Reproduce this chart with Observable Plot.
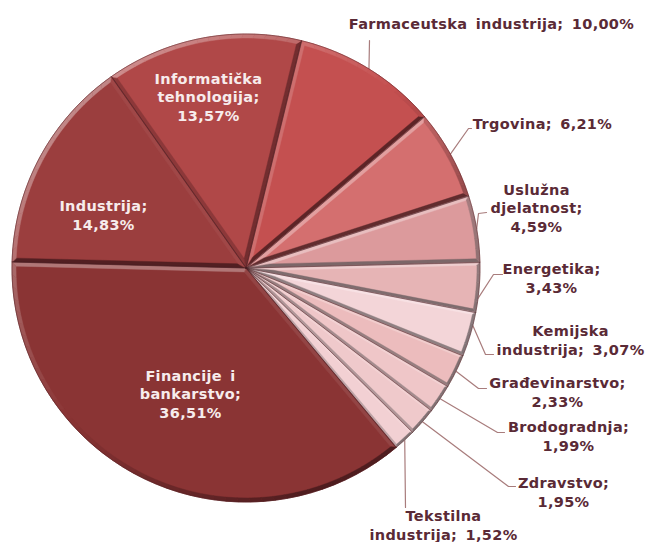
<!DOCTYPE html>
<html>
<head>
<meta charset="utf-8">
<script src="https://cdn.jsdelivr.net/npm/d3@7"></script>
<script src="https://cdn.jsdelivr.net/npm/@observablehq/plot@0.6"></script>
<style>html,body{margin:0;padding:0;background:#fff}svg{display:block}svg text{letter-spacing:.32px;word-spacing:3px}</style>
</head>
<body>
<div id="chart"></div>
<script>
// Chart data, clockwise from the Farmaceutska slice
const sectors = ["Farmaceutska industrija","Trgovina","Uslužna djelatnost","Energetika","Kemijska industrija","Građevinarstvo","Brodogradnja","Zdravstvo","Tekstilna industrija","Financije i bankarstvo","Industrija","Informatička tehnologija"];
const shares = [10.00,6.21,4.59,3.43,3.07,2.33,1.99,1.95,1.52,36.51,14.83,13.57];
const palette = ["#c45050","#d46f6f","#dc9a9c","#e6b4b5","#f3d5d8","#ecbcbd","#efc6c8","#efc9cb","#f2d0d3","#8a3434","#9b3e3e","#b04848"];
const labels = ["Farmaceutska industrija; 10,00%","Trgovina; 6,21%","Uslužna\ndjelatnost;\n4,59%","Energetika;\n3,43%","Kemijska\nindustrija; 3,07%","Građevinarstvo;\n2,33%","Brodogradnja;\n1,99%","Zdravstvo;\n1,95%","Tekstilna\nindustrija; 1,52%","Financije i\nbankarstvo;\n36,51%","Industrija;\n14,83%","Informatička\ntehnologija;\n13,57%"];

// Layout
const cx = 245.5, cy = 267.5, R = 234, bevel = 4, startDeg = 13.7;
const labelAt = [[491,23],[542,123],[536,207],[551,277],[570,339],[557,391],[568,435],[563,491],[443,524],[190,393],[103,214],[208,96]];
const leaderVia = [[[369,40]],[[468,128],[471,128]],[[478,213],[486,212]],[[493,274],[502,274]],[[485,354],[493,354]],[[478,388],[486,388]],[[497,432],[504,432]],[[508,486],[515,486]],[[405,507]],[],[],[]];
const leaderFrac = [0.5,0.5,0.5,0.72,0.3,0.5,0.5,0.5,0.5,0,0,0];

const rad = d => d * Math.PI / 180;
const pt = (deg, r, ox = cx, oy = cy) => [ox + r * Math.sin(rad(deg)), oy - r * Math.cos(rad(deg))];
const total = d3.sum(shares);
let acc = 0;
const slices = shares.map((v, i) => {
  const a0 = startDeg + acc / total * 360;
  acc += v;
  return {i, a0, a1: startDeg + acc / total * 360, base: palette[i]};
});
const arcPts = (a0, a1, r) => {
  const n = Math.max(2, Math.ceil(Math.abs(a1 - a0) / 1.5));
  return d3.range(n + 1).map(k => pt(a0 + (a1 - a0) * k / n, r));
};
const mixShade = (base, t) => {
  const dark = d3.hsl(base).l > 0.7 ? "#5c5456" : "#3a1518";
  return t > 0 ? d3.interpolateRgb(base, "#fff")(Math.min(t, 1) * 0.42) : d3.interpolateRgb(base, dark)(Math.min(-t, 1) * 0.75);
};
const edgeShade = (base, n) => mixShade(base, Math.cos(rad(n - 340)) - 0.15);
const arcShade = (base, a) => mixShade(base, Math.cos(rad(a - 315)) - 0.1);
const polys = [], bevels = [];
let id = 0;
const add = (list, pts, fill) => { const k = id++; pts.forEach(([x, y]) => list.push({k, x, y, fill})); };
for (const s of slices) {
  add(polys, [[cx, cy], ...arcPts(s.a0, s.a1, R)], s.base);
  const half = rad((s.a1 - s.a0) / 2);
  const mid = (s.a0 + s.a1) / 2;
  const w = Math.min(bevel, Math.sin(half) * 14 + 1.5);
  const apexOff = Math.min(w / Math.sin(half), 40);
  const apex = pt(mid, apexOff);
  const da = Math.asin(w / (R - w)) * 180 / Math.PI;
  const in0 = pt(s.a0 + da, R - w), in1 = pt(s.a1 - da, R - w);
  add(bevels, [[cx, cy], pt(s.a0, R), in0, apex], edgeShade(s.base, s.a0 - 90));
  add(bevels, [[cx, cy], pt(s.a1, R), in1, apex], edgeShade(s.base, s.a1 + 90));
  const n = Math.max(2, Math.ceil((s.a1 - s.a0) / 3));
  for (let k = 0; k < n; k++) {
    const a = s.a0 + (s.a1 - s.a0) * k / n, b = s.a0 + (s.a1 - s.a0) * (k + 1) / n;
    const ia = s.a0 + da + (s.a1 - s.a0 - 2 * da) * k / n, ib = s.a0 + da + (s.a1 - s.a0 - 2 * da) * (k + 1) / n;
    add(bevels, [pt(a, R), pt(b, R), pt(ib, R - w), pt(ia, R - w)], arcShade(s.base, (a + b) / 2));
  }
}
const leaders = slices.flatMap(s => {
  const via = leaderVia[s.i];
  if (!via.length) return [];
  const from = pt(s.a0 + (s.a1 - s.a0) * leaderFrac[s.i], R);
  return [from, ...via].map(([x, y]) => ({k: s.i, x, y}));
});
const labelRows = labels.map((text, i) => ({text, x: labelAt[i][0], y: labelAt[i][1], inside: i >= 9}));

const chart = Plot.plot({
  width: 647, height: 542, margin: 0,
  x: {domain: [0, 647], range: [0, 647], axis: null},
  y: {domain: [0, 542], range: [0, 542], axis: null},
  color: {type: "identity"},
  style: {background: "#fff"},
  marks: [
    Plot.line(leaders, {x: "x", y: "y", z: "k", stroke: "#a87c7c", strokeWidth: 1.2}),
    Plot.line(polys, {x: "x", y: "y", z: "k", fill: "fill", stroke: "fill", strokeWidth: 0.5, curve: "linear-closed"}),
    Plot.line(bevels, {x: "x", y: "y", z: "k", fill: "fill", stroke: "fill", strokeWidth: 0.4, curve: "linear-closed", imageFilter: "blur(0.7px)"}),
    Plot.line(polys, {x: "x", y: "y", z: "k", stroke: "#4a2024", strokeWidth: 0.8, strokeOpacity: 0.55, curve: "linear-closed", imageFilter: "blur(0.3px)"}),
    Plot.text(labelRows.filter(d => !d.inside), {x: "x", y: "y", text: "text", fill: "#5a2a36", fontSize: 14.5, fontWeight: 700, fontFamily: "DejaVu Sans", lineHeight: 1.28, textAnchor: "middle"}),
    Plot.text(labelRows.filter(d => d.inside), {x: "x", y: "y", text: "text", fill: "#f7ecec", fontSize: 14.5, fontWeight: 700, fontFamily: "DejaVu Sans", lineHeight: 1.28, textAnchor: "middle"})
  ]
});
document.getElementById("chart").append(chart);
</script>
</body>
</html>
